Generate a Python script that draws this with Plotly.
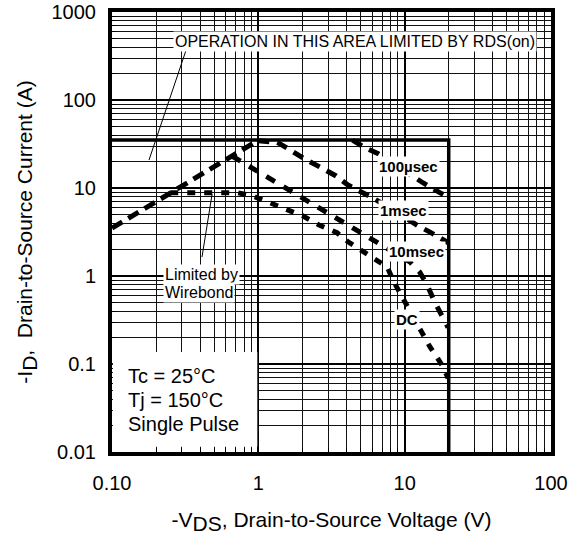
import math
import plotly.graph_objects as go

# ---- Safe operating area data ----
# Outer limits: maximum drain current and maximum drain-source voltage
bound_v = [0.1, 20.0, 20.0]
bound_i = [35.0, 35.0, 0.01]

# RDS(on)-limited line
rds_v = [0.1, 1.0]
rds_i = [3.5, 35.0]

# 100 usec single pulse
us100_v = [4.4, 5.4, 6.6, 9.0, 11.2, 13.4, 17.5, 20.0]
us100_i = [35.0, 28.5, 24.5, 17.5, 13.5, 11.4, 8.8, 7.8]

# 1 msec single pulse
ms1_v = [1.0, 1.35, 1.57, 2.02, 2.64, 3.40, 4.10, 5.20, 6.08, 8.5, 11.4, 12.4, 14.9, 17.5, 20.0]
ms1_i = [34.5, 33.0, 28.5, 21.9, 17.3, 13.7, 10.8, 8.77, 7.7, 5.5, 4.0, 3.7, 3.15, 2.7, 2.37]

# 10 msec single pulse
ms10_v = [0.66, 0.905, 1.2, 1.57, 2.02, 2.6, 3.24, 4.1, 5.12, 6.48, 8.5, 10.9, 12.7, 14.2, 16.1, 18.0, 19.8]
ms10_i = [23.1, 16.9, 13.0, 9.75, 7.7, 6.1, 4.8, 3.8, 3.08, 2.43, 1.85, 1.44, 1.1, 0.8, 0.5, 0.35, 0.26]

# DC (wirebond-limited at low voltage)
dc_v = [0.25, 0.72, 0.92, 1.2, 1.57, 2.02, 2.6, 3.45, 4.1, 5.1, 6.1, 7.6, 8.3, 9.6, 10.5, 12.0,
        13.2, 14.9, 16.6, 18.3, 19.8]
dc_i = [8.85, 8.85, 8.1, 6.8, 5.8, 4.8, 3.8, 3.1, 2.45, 1.9, 1.6, 1.27, 0.9, 0.58, 0.44, 0.3,
        0.225, 0.156, 0.12, 0.093, 0.069]

# Leader lines for the callouts
lead_rds_v = [0.321, 0.179]
lead_rds_i = [370.0, 20.8]
lead_wb_v = [0.483, 0.412]
lead_wb_i = [8.5, 1.64]

# Axis ticks
x_ticks = [0.1, 1, 10, 100]
x_text = ["0.10", "1", "10", "100"]
y_ticks = [0.01, 0.1, 1, 10, 100, 1000]
y_text = ["0.01", "0.1", "1", "10", "100", "1000"]

FONT = "Liberation Sans, Arial, Helvetica, sans-serif"

fig = go.Figure()


def dashed(v, i, width, dash):
    fig.add_trace(go.Scatter(x=v, y=i, mode="lines",
                             line=dict(color="black", width=width, dash=dash),
                             hoverinfo="skip"))


dashed(rds_v, rds_i, 5, "12px,7px")
dashed(us100_v, us100_i, 5, "11px,8px")
dashed(ms1_v, ms1_i, 5, "11px,8px")
dashed(ms10_v, ms10_i, 5, "10px,10px")
dashed(dc_v, dc_i, 5, "8px,9px")

# Boundary of the operating area
fig.add_trace(go.Scatter(x=bound_v, y=bound_i, mode="lines",
                         line=dict(color="black", width=3.5), hoverinfo="skip"))

for lv, li in ((lead_rds_v, lead_rds_i), (lead_wb_v, lead_wb_i)):
    fig.add_trace(go.Scatter(x=lv, y=li, mode="lines",
                             line=dict(color="black", width=1), hoverinfo="skip"))

# White panel behind the test conditions (leaves the bottom minor ticks visible)
fig.add_shape(type="rect", xref="x domain", yref="y domain",
              x0=0.002, x1=0.331, y0=0.012, y1=0.227,
              fillcolor="white", line=dict(width=0), layer="above")


def label(v, i, text, size, xanchor="center", bg="white"):
    kw = dict(bgcolor=bg, borderpad=1) if bg else {}
    fig.add_annotation(x=math.log10(v), y=math.log10(i), text=text, showarrow=False,
                       xanchor=xanchor, yanchor="middle",
                       font=dict(family=FONT, size=size, color="black"), **kw)


label(4.58, 468, "OPERATION IN THIS AREA LIMITED BY RDS(on)", 16)
label(10.6, 17.5, "<b>100µsec</b>", 15)
label(9.83, 5.48, "<b>1msec</b>", 15)
label(11.97, 1.90, "<b>10msec</b>", 15)
label(10.3, 0.324, "<b>DC</b>", 15)
label(0.223, 1.03, "Limited by", 16, xanchor="left")
label(0.223, 0.657, "Wirebond", 16, xanchor="left")
label(0.125, 0.0731, "Tc = 25°C", 20, xanchor="left", bg=None)
label(0.125, 0.039, "Tj = 150°C", 20, xanchor="left", bg=None)
label(0.125, 0.0208, "Single Pulse", 20, xanchor="left", bg=None)


def minor_vals(lo, hi):
    return [m * 10 ** e for e in range(lo, hi) for m in range(2, 10)]


axis_common = dict(
    type="log", tickmode="array", ticks="inside", ticklen=20, tickwidth=2,
    tickcolor="black", showgrid=True, gridcolor="black", gridwidth=2,
    showline=True, linewidth=4, linecolor="black", mirror=True, zeroline=False,
    automargin=False,
    tickfont=dict(family=FONT, size=20, color="black"),
)

fig.update_xaxes(
    range=[-1, 2], tickvals=x_ticks, ticktext=x_text, ticklabelstandoff=10,
    title=dict(text='-V<sub><span style="font-size:21px">DS</span></sub>, Drain-to-Source Voltage (V)',
               font=dict(family=FONT, size=21, color="black"), standoff=20),
    minor=dict(tickmode="array", tickvals=minor_vals(-1, 2), ticks="inside", ticklen=4,
               tickwidth=1, tickcolor="black", showgrid=True, gridcolor="#111111", gridwidth=1),
    **axis_common,
)
fig.update_yaxes(
    range=[-2, 3], tickvals=y_ticks, ticktext=y_text, ticklabelstandoff=8,
    title=dict(text='-I<sub><span style="font-size:21px">D</span></sub>,  Drain-to-Source Current (A)',
               font=dict(family=FONT, size=21, color="black"), standoff=14),
    minor=dict(tickmode="array", tickvals=minor_vals(-2, 3), ticks="inside", ticklen=4,
               tickwidth=1, tickcolor="black", showgrid=True, gridcolor="#111111", gridwidth=1),
    **axis_common,
)

fig.update_layout(
    width=582, height=538,
    margin=dict(l=112, r=31, t=12, b=86, autoexpand=False),
    plot_bgcolor="white", paper_bgcolor="white",
    showlegend=False,
    font=dict(family=FONT, color="black"),
)

fig.write_html("out.html")
